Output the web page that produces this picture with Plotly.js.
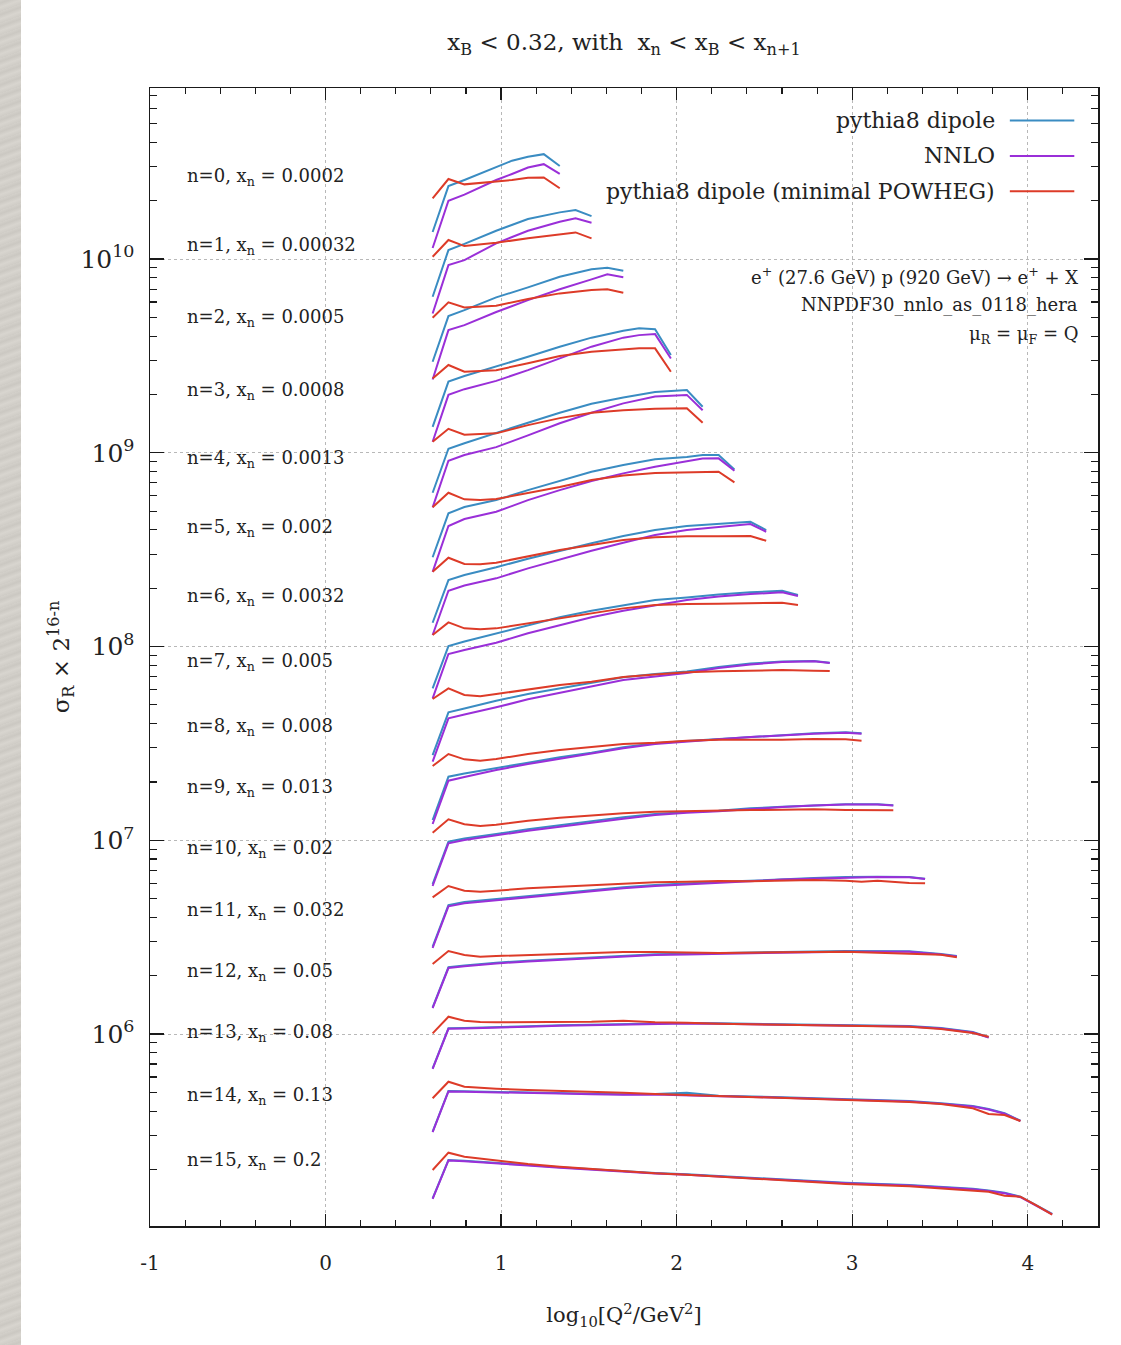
<!DOCTYPE html>
<html>
<head>
<meta charset="utf-8">
<script src="https://cdn.plot.ly/plotly-3.0.1.min.js"></script>
<style>
  html, body { margin: 0; padding: 0; background: #ffffff; }
  #chart { position: absolute; left: 0; top: 0; width: 1121px; height: 1345px; }
  #strip { position: absolute; left: 0; top: 0; width: 21px; height: 1345px; z-index: 5;
    background: repeating-linear-gradient(160deg, #d3d0ca 0px, #cbc8c2 3px, #d8d5cf 7px, #cfccc6 11px); }
</style>
</head>
<body>
<div id="chart"></div>
<div id="strip"></div>
<script>
// ---- data: log10(Q^2/GeV^2) nodes and sigma_R x 2^(16-n) for each x_B bin n ----
const binIndex = [0,1,2,3,4,5,6,7,8,9,10,11,12,13,14,15];
const xnLabels = ['0.0002','0.00032','0.0005','0.0008','0.0013','0.002','0.0032','0.005','0.008','0.013','0.02','0.032','0.05','0.08','0.13','0.2'];

const logQ2_0 = [0.61, 0.7, 0.791, 0.972, 1.062, 1.153, 1.243, 1.334];
const dipole_0 = [1.38e10, 2.38e10, 2.56e10, 2.97e10, 3.22e10, 3.37e10, 3.48e10, 3.02e10];
const nnlo_0   = [1.14e10, 2.00e10, 2.15e10, 2.56e10, 2.75e10, 2.97e10, 3.09e10, 2.75e10];
const powheg_0 = [2.06e10, 2.59e10, 2.43e10, 2.51e10, 2.56e10, 2.63e10, 2.64e10, 2.32e10];

const logQ2_1 = [0.61, 0.7, 0.791, 0.972, 1.153, 1.334, 1.424, 1.515];
const dipole_1 = [6.39e9, 1.113e10, 1.197e10, 1.40e10, 1.609e10, 1.742e10, 1.790e10, 1.667e10];
const nnlo_1   = [5.24e9, 9.31e9, 9.88e9, 1.205e10, 1.40e10, 1.558e10, 1.623e10, 1.539e10];
const powheg_1 = [1.028e10, 1.254e10, 1.167e10, 1.214e10, 1.279e10, 1.346e10, 1.373e10, 1.279e10];

const logQ2_2 = [0.61, 0.7, 0.791, 0.972, 1.153, 1.334, 1.515, 1.605, 1.696];
const dipole_2 = [2.95e9, 5.08e9, 5.45e9, 6.34e9, 7.14e9, 8.10e9, 8.85e9, 9.02e9, 8.70e9];
const nnlo_2   = [2.39e9, 4.30e9, 4.56e9, 5.33e9, 6.14e9, 6.98e9, 7.86e9, 8.34e9, 8.05e9];
const powheg_2 = [4.98e9, 5.98e9, 5.63e9, 5.74e9, 6.22e9, 6.65e9, 6.92e9, 6.98e9, 6.70e9];

const logQ2_3 = [0.61, 0.7, 0.791, 0.972, 1.153, 1.334, 1.515, 1.696, 1.786, 1.877, 1.967];
const dipole_3 = [1.36e9, 2.33e9, 2.49e9, 2.78e9, 3.13e9, 3.53e9, 3.93e9, 4.27e9, 4.39e9, 4.34e9, 3.20e9];
const nnlo_3   = [1.14e9, 1.99e9, 2.13e9, 2.35e9, 2.67e9, 3.07e9, 3.53e9, 3.93e9, 4.05e9, 4.10e9, 3.07e9];
const powheg_3 = [2.42e9, 2.84e9, 2.62e9, 2.67e9, 2.90e9, 3.16e9, 3.32e9, 3.42e9, 3.46e9, 3.46e9, 2.62e9];

const logQ2_4 = [0.61, 0.7, 0.791, 0.972, 1.153, 1.334, 1.515, 1.696, 1.877, 2.058, 2.148];
const dipole_4 = [6.22e8, 1.05e9, 1.12e9, 1.27e9, 1.43e9, 1.61e9, 1.79e9, 1.93e9, 2.06e9, 2.11e9, 1.73e9];
const nnlo_4   = [5.23e8, 9.10e8, 9.74e8, 1.07e9, 1.23e9, 1.42e9, 1.61e9, 1.80e9, 1.95e9, 1.99e9, 1.66e9];
const powheg_4 = [1.14e9, 1.33e9, 1.24e9, 1.26e9, 1.39e9, 1.51e9, 1.61e9, 1.66e9, 1.69e9, 1.70e9, 1.43e9];

const logQ2_5 = [0.61, 0.7, 0.791, 0.881, 0.972, 1.153, 1.334, 1.515, 1.696, 1.877, 2.058, 2.148, 2.239, 2.329];
const dipole_5 = [2.89e8, 4.87e8, 5.25e8, 5.47e8, 5.70e8, 6.42e8, 7.17e8, 7.98e8, 8.65e8, 9.25e8, 9.51e8, 9.74e8, 9.74e8, 8.21e8];
const nnlo_5   = [2.43e8, 4.19e8, 4.55e8, 4.77e8, 4.96e8, 5.70e8, 6.42e8, 7.15e8, 7.83e8, 8.47e8, 8.99e8, 9.34e8, 9.36e8, 8.08e8];
const powheg_5 = [5.23e8, 6.22e8, 5.75e8, 5.70e8, 5.77e8, 6.20e8, 6.66e8, 7.23e8, 7.63e8, 7.86e8, 7.95e8, 7.98e8, 7.98e8, 7.04e8];

const logQ2_6 = [0.61, 0.7, 0.791, 0.881, 0.972, 1.153, 1.334, 1.515, 1.696, 1.877, 2.058, 2.239, 2.329, 2.420, 2.510];
const dipole_6 = [1.327e8, 2.204e8, 2.339e8, 2.439e8, 2.564e8, 2.84e8, 3.123e8, 3.41e8, 3.718e8, 3.994e8, 4.19e8, 4.288e8, 4.355e8, 4.407e8, 3.994e8];
const nnlo_6   = [1.147e8, 1.941e8, 2.065e8, 2.152e8, 2.249e8, 2.533e8, 2.819e8, 3.123e8, 3.434e8, 3.763e8, 3.994e8, 4.152e8, 4.237e8, 4.288e8, 3.913e8];
const powheg_6 = [2.43e8, 2.873e8, 2.666e8, 2.657e8, 2.707e8, 2.908e8, 3.149e8, 3.341e8, 3.545e8, 3.661e8, 3.705e8, 3.705e8, 3.71e8, 3.718e8, 3.516e8];

const logQ2_7 = [0.61, 0.7, 0.791, 0.881, 0.972, 1.153, 1.334, 1.515, 1.696, 1.877, 2.058, 2.239, 2.420, 2.601, 2.691];
const dipole_7 = [6.085e7, 1.006e8, 1.061e8, 1.113e8, 1.17e8, 1.291e8, 1.415e8, 1.53e8, 1.637e8, 1.738e8, 1.79e8, 1.855e8, 1.904e8, 1.941e8, 1.844e8];
const nnlo_7   = [5.401e7, 9.15e7, 9.59e7, 1.0e8, 1.046e8, 1.17e8, 1.291e8, 1.415e8, 1.53e8, 1.637e8, 1.738e8, 1.812e8, 1.866e8, 1.904e8, 1.822e8];
const powheg_7 = [1.147e8, 1.333e8, 1.241e8, 1.227e8, 1.241e8, 1.317e8, 1.398e8, 1.484e8, 1.574e8, 1.637e8, 1.657e8, 1.662e8, 1.677e8, 1.683e8, 1.637e8];

const logQ2_8 = [0.61, 0.7, 0.791, 0.881, 0.972, 1.153, 1.334, 1.515, 1.696, 1.877, 2.058, 2.239, 2.420, 2.601, 2.782, 2.872];
const dipole_8 = [2.754e7, 4.575e7, 4.786e7, 5.018e7, 5.25e7, 5.686e7, 6.085e7, 6.505e7, 6.934e7, 7.213e7, 7.43e7, 7.839e7, 8.172e7, 8.368e7, 8.418e7, 8.249e7];
const nnlo_8   = [2.544e7, 4.26e7, 4.457e7, 4.647e7, 4.857e7, 5.338e7, 5.774e7, 6.254e7, 6.716e7, 7.001e7, 7.298e7, 7.745e7, 8.075e7, 8.318e7, 8.387e7, 8.219e7];
const powheg_8 = [5.358e7, 6.085e7, 5.62e7, 5.533e7, 5.686e7, 6.014e7, 6.329e7, 6.582e7, 6.96e7, 7.17e7, 7.359e7, 7.447e7, 7.518e7, 7.563e7, 7.5e7, 7.473e7];

const logQ2_9 = [0.61, 0.7, 0.791, 0.881, 0.972, 1.153, 1.334, 1.515, 1.696, 1.877, 2.058, 2.239, 2.420, 2.601, 2.782, 2.963, 3.053];
const dipole_9 = [1.272e7, 2.128e7, 2.211e7, 2.278e7, 2.352e7, 2.513e7, 2.68e7, 2.831e7, 3.018e7, 3.166e7, 3.254e7, 3.332e7, 3.425e7, 3.494e7, 3.565e7, 3.608e7, 3.565e7];
const nnlo_9   = [1.213e7, 2.03e7, 2.121e7, 2.211e7, 2.305e7, 2.474e7, 2.636e7, 2.811e7, 2.983e7, 3.14e7, 3.242e7, 3.32e7, 3.412e7, 3.481e7, 3.547e7, 3.59e7, 3.547e7];
const powheg_9 = [2.416e7, 2.788e7, 2.617e7, 2.574e7, 2.627e7, 2.788e7, 2.923e7, 3.04e7, 3.14e7, 3.188e7, 3.265e7, 3.3e7, 3.292e7, 3.304e7, 3.332e7, 3.319e7, 3.265e7];

const logQ2_10 = [0.61, 0.7, 0.791, 0.881, 0.972, 1.153, 1.334, 1.515, 1.696, 1.877, 2.058, 2.239, 2.420, 2.601, 2.782, 2.963, 3.144, 3.234];
const dipole_10 = [5.946e6, 9.829e6, 1.021e7, 1.052e7, 1.077e7, 1.139e7, 1.195e7, 1.246e7, 1.313e7, 1.366e7, 1.399e7, 1.42e7, 1.462e7, 1.49e7, 1.515e7, 1.533e7, 1.533e7, 1.515e7];
const nnlo_10   = [5.806e6, 9.645e6, 1.003e7, 1.033e7, 1.061e7, 1.12e7, 1.175e7, 1.227e7, 1.292e7, 1.35e7, 1.387e7, 1.41e7, 1.453e7, 1.485e7, 1.51e7, 1.528e7, 1.53e7, 1.512e7];
const powheg_10 = [1.094e7, 1.283e7, 1.209e7, 1.185e7, 1.203e7, 1.262e7, 1.307e7, 1.345e7, 1.377e7, 1.404e7, 1.416e7, 1.432e7, 1.432e7, 1.438e7, 1.444e7, 1.432e7, 1.432e7, 1.427e7];

const logQ2_11 = [0.61, 0.7, 0.791, 0.881, 0.972, 1.153, 1.334, 1.515, 1.696, 1.877, 2.058, 2.239, 2.420, 2.601, 2.782, 2.963, 3.053, 3.144, 3.325, 3.415];
const dipole_11 = [2.822e6, 4.633e6, 4.801e6, 4.887e6, 4.957e6, 5.156e6, 5.324e6, 5.49e6, 5.717e6, 5.875e6, 5.995e6, 6.111e6, 6.183e6, 6.31e6, 6.386e6, 6.462e6, 6.478e6, 6.486e6, 6.462e6, 6.333e6];
const nnlo_11   = [2.779e6, 4.56e6, 4.733e6, 4.818e6, 4.887e6, 5.083e6, 5.248e6, 5.418e6, 5.649e6, 5.806e6, 5.932e6, 6.052e6, 6.139e6, 6.265e6, 6.348e6, 6.432e6, 6.447e6, 6.462e6, 6.44e6, 6.31e6];
const powheg_11 = [5.076e6, 5.806e6, 5.49e6, 5.426e6, 5.49e6, 5.649e6, 5.758e6, 5.875e6, 5.995e6, 6.067e6, 6.111e6, 6.162e6, 6.139e6, 6.213e6, 6.234e6, 6.183e6, 6.111e6, 6.183e6, 6.017e6, 5.995e6];

const logQ2_12 = [0.61, 0.7, 0.791, 0.881, 0.972, 1.153, 1.334, 1.515, 1.696, 1.877, 2.058, 2.239, 2.601, 2.963, 3.144, 3.325, 3.506, 3.596];
const dipole_12 = [1.373e6, 2.21e6, 2.257e6, 2.298e6, 2.333e6, 2.389e6, 2.439e6, 2.488e6, 2.536e6, 2.578e6, 2.597e6, 2.619e6, 2.65e6, 2.682e6, 2.682e6, 2.672e6, 2.588e6, 2.527e6];
const nnlo_12   = [1.362e6, 2.191e6, 2.239e6, 2.279e6, 2.314e6, 2.37e6, 2.418e6, 2.468e6, 2.515e6, 2.557e6, 2.575e6, 2.597e6, 2.628e6, 2.66e6, 2.666e6, 2.657e6, 2.572e6, 2.512e6];
const powheg_12 = [2.298e6, 2.682e6, 2.557e6, 2.506e6, 2.527e6, 2.557e6, 2.588e6, 2.609e6, 2.65e6, 2.65e6, 2.641e6, 2.619e6, 2.641e6, 2.66e6, 2.628e6, 2.597e6, 2.567e6, 2.488e6];

const logQ2_13 = [0.61, 0.7, 0.791, 0.881, 0.972, 1.153, 1.334, 1.515, 1.696, 1.877, 2.058, 2.239, 2.601, 2.963, 3.325, 3.506, 3.687, 3.777];
const dipole_13 = [6.653e5, 1.07e6, 1.074e6, 1.078e6, 1.083e6, 1.096e6, 1.109e6, 1.117e6, 1.126e6, 1.136e6, 1.14e6, 1.136e6, 1.126e6, 1.113e6, 1.1e6, 1.074e6, 1.024e6, 9.616e5];
const nnlo_13   = [6.614e5, 1.064e6, 1.068e6, 1.071e6, 1.077e6, 1.089e6, 1.102e6, 1.11e6, 1.119e6, 1.129e6, 1.133e6, 1.129e6, 1.119e6, 1.106e6, 1.093e6, 1.067e6, 1.018e6, 9.592e5];
const powheg_13 = [1.008e6, 1.228e6, 1.171e6, 1.153e6, 1.149e6, 1.149e6, 1.153e6, 1.157e6, 1.171e6, 1.149e6, 1.144e6, 1.13e6, 1.117e6, 1.1e6, 1.091e6, 1.061e6, 1.012e6, 9.685e5];

const logQ2_14 = [0.61, 0.7, 0.791, 0.881, 0.972, 1.153, 1.334, 1.515, 1.696, 1.877, 2.058, 2.239, 2.601, 2.963, 3.325, 3.506, 3.687, 3.777, 3.868, 3.958];
const dipole_14 = [3.131e5, 5.079e5, 5.062e5, 5.049e5, 5.037e5, 5.001e5, 4.96e5, 4.919e5, 4.884e5, 4.901e5, 4.977e5, 4.802e5, 4.713e5, 4.603e5, 4.511e5, 4.388e5, 4.25e5, 4.101e5, 3.897e5, 3.568e5];
const nnlo_14   = [3.113e5, 5.049e5, 5.03e5, 5.018e5, 5.006e5, 4.971e5, 4.931e5, 4.89e5, 4.855e5, 4.872e5, 4.844e5, 4.775e5, 4.685e5, 4.576e5, 4.484e5, 4.362e5, 4.225e5, 4.076e5, 3.874e5, 3.556e5];
const powheg_14 = [4.657e5, 5.674e5, 5.346e5, 5.264e5, 5.221e5, 5.14e5, 5.098e5, 5.037e5, 4.977e5, 4.901e5, 4.844e5, 4.769e5, 4.674e5, 4.527e5, 4.457e5, 4.352e5, 4.135e5, 3.865e5, 3.819e5, 3.556e5];

const logQ2_15 = [0.61, 0.7, 0.791, 0.881, 0.972, 1.153, 1.334, 1.515, 1.696, 1.877, 2.058, 2.239, 2.601, 2.963, 3.325, 3.506, 3.687, 3.777, 3.868, 3.958, 4.049, 4.139];
const dipole_15 = [1.419e5, 2.237e5, 2.216e5, 2.192e5, 2.166e5, 2.108e5, 2.051e5, 2.003e5, 1.956e5, 1.917e5, 1.887e5, 1.85e5, 1.779e5, 1.708e5, 1.662e5, 1.629e5, 1.59e5, 1.557e5, 1.517e5, 1.447e5, 1.31e5, 1.178e5];
const nnlo_15   = [1.411e5, 2.224e5, 2.203e5, 2.179e5, 2.153e5, 2.096e5, 2.039e5, 1.991e5, 1.945e5, 1.906e5, 1.876e5, 1.839e5, 1.769e5, 1.698e5, 1.652e5, 1.619e5, 1.581e5, 1.548e5, 1.508e5, 1.438e5, 1.302e5, 1.171e5];
const powheg_15 = [1.987e5, 2.44e5, 2.326e5, 2.272e5, 2.219e5, 2.133e5, 2.066e5, 2.01e5, 1.97e5, 1.91e5, 1.878e5, 1.834e5, 1.764e5, 1.682e5, 1.636e5, 1.598e5, 1.548e5, 1.535e5, 1.464e5, 1.447e5, 1.306e5, 1.168e5];

const seriesNames = ['pythia8 dipole', 'NNLO', 'pythia8 dipole (minimal POWHEG)'];
const xTickVals = [-1, 0, 1, 2, 3, 4];
const xTickText = ['-1', '0', '1', '2', '3', '4'];

// ---- assembly ----
const logQ2 = [logQ2_0, logQ2_1, logQ2_2, logQ2_3, logQ2_4, logQ2_5, logQ2_6, logQ2_7, logQ2_8, logQ2_9, logQ2_10, logQ2_11, logQ2_12, logQ2_13, logQ2_14, logQ2_15];
const dipole = [dipole_0, dipole_1, dipole_2, dipole_3, dipole_4, dipole_5, dipole_6, dipole_7, dipole_8, dipole_9, dipole_10, dipole_11, dipole_12, dipole_13, dipole_14, dipole_15];
const nnlo = [nnlo_0, nnlo_1, nnlo_2, nnlo_3, nnlo_4, nnlo_5, nnlo_6, nnlo_7, nnlo_8, nnlo_9, nnlo_10, nnlo_11, nnlo_12, nnlo_13, nnlo_14, nnlo_15];
const powheg = [powheg_0, powheg_1, powheg_2, powheg_3, powheg_4, powheg_5, powheg_6, powheg_7, powheg_8, powheg_9, powheg_10, powheg_11, powheg_12, powheg_13, powheg_14, powheg_15];

const COLORS = ['#3a8cc2', '#9a2fd8', '#dd3b28'];
const FONT = 'DejaVu Serif, Liberation Serif, serif';

const traces = [];
[dipole, nnlo, powheg].forEach((set, s) => {
  binIndex.forEach(n => {
    traces.push({
      type: 'scatter', mode: 'lines',
      x: logQ2[n], y: set[n],
      name: seriesNames[s] + ' (n=' + n + ')',
      line: {color: COLORS[s], width: 2},
      showlegend: false, hoverinfo: 'skip'
    });
  });
});

// bin label vertical positions (log10 units on the y axis)
const labelLogY = [10.423, 10.067, 9.695, 9.319, 8.968, 8.612, 8.255, 7.920, 7.585, 7.270, 6.955, 6.635, 6.320, 6.005, 5.680, 5.345];

const annotations = binIndex.map(n => ({
  xref: 'x', yref: 'y', x: -0.8, y: labelLogY[n],
  xanchor: 'left', yanchor: 'middle', showarrow: false,
  text: 'n=' + n + ', x<sub>n</sub> = ' + xnLabels[n],
  font: {family: FONT, size: 18, color: '#222'}
}));

// legend (text left of the line samples, as in the reference)
const legendY = [0.9715, 0.9403, 0.9092];
const shapes = [];
seriesNames.forEach((nm, i) => {
  annotations.push({
    xref: 'paper', yref: 'paper', x: 0.8935, y: legendY[i],
    xanchor: 'right', yanchor: 'middle', showarrow: false,
    text: nm, font: {family: FONT, size: 22, color: '#222'}
  });
  shapes.push({
    type: 'line', xref: 'paper', yref: 'paper',
    x0: 0.9070, x1: 0.9750, y0: legendY[i], y1: legendY[i],
    line: {color: COLORS[i], width: 2}
  });
});

const infoLines = ['e<sup>+</sup> (27.6 GeV) p (920 GeV) \u2192 e<sup>+</sup> + X', 'NNPDF30_nnlo_as_0118_hera', '\u03bc<sub>R</sub> = \u03bc<sub>F</sub> = Q'];
const infoY = [0.8349, 0.8091, 0.7830];
infoLines.forEach((t, i) => {
  annotations.push({
    xref: 'paper', yref: 'paper', x: 0.981, y: infoY[i],
    xanchor: 'right', yanchor: 'middle', showarrow: false,
    text: t, font: {family: FONT, size: 18, color: '#222'}
  });
});

const axisCommon = {
  showline: true, linecolor: '#1a1a1a', linewidth: 1.5, mirror: 'allticks',
  ticks: 'inside', tickcolor: '#1a1a1a', tickwidth: 1.3,
  showgrid: true, gridcolor: '#b8b8b8', gridwidth: 1, griddash: 'dot',
  zeroline: false, tickfont: {family: FONT, size: 20, color: '#222'}
};

const layout = {
  width: 1121, height: 1345,
  margin: {l: 150, r: 23, t: 88, b: 119},
  paper_bgcolor: '#ffffff', plot_bgcolor: '#ffffff',
  font: {family: FONT, color: '#222', size: 20},
  showlegend: false,
  title: {
    text: 'x<sub>B</sub> < 0.32, with  x<sub>n</sub> < x<sub>B</sub> < x<sub>n+1</sub>',
    x: 0.5, xref: 'paper', xanchor: 'center',
    y: 1 - 42 / 1345, yref: 'container', yanchor: 'middle',
    font: {family: FONT, size: 23, color: '#222'}
  },
  xaxis: Object.assign({}, axisCommon, {
    range: [-1, 4.4], tickmode: 'array', tickvals: xTickVals, ticktext: xTickText,
    ticklen: 12, ticklabelstandoff: 18,
    minor: {dtick: 0.2, tick0: 0, ticks: 'inside', ticklen: 6, tickcolor: '#1a1a1a', tickwidth: 1.1, showgrid: false},
    title: {text: 'log<sub>10</sub>[Q<sup>2</sup>/GeV<sup>2</sup>]', standoff: 34, font: {family: FONT, size: 21, color: '#222'}}
  }),
  yaxis: Object.assign({}, axisCommon, {
    type: 'log', range: [5.009, 10.883], dtick: 1,
    exponentformat: 'power', showexponent: 'all',
    ticklen: 14, ticklabelstandoff: 10,
    minor: {dtick: 'D1', ticks: 'inside', ticklen: 7, tickcolor: '#1a1a1a', tickwidth: 1.1, showgrid: false},
    title: {text: '\u03c3<sub>R</sub> \u00d7 2<sup>16-n</sup>', standoff: 4, font: {family: FONT, size: 23, color: '#222'}}
  }),
  annotations: annotations,
  shapes: shapes
};

Plotly.newPlot('chart', traces, layout, {staticPlot: true, displayModeBar: false});
</script>
</body>
</html>
